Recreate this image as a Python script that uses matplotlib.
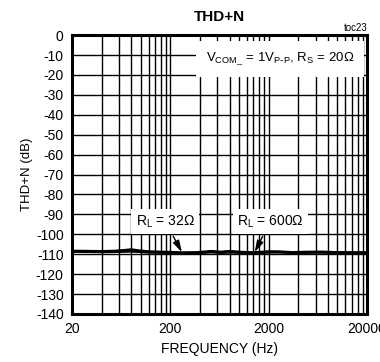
import numpy as np
import matplotlib
matplotlib.use("Agg")
import matplotlib.pyplot as plt
from matplotlib.ticker import FixedLocator, NullFormatter

plt.rcParams['font.family'] = ['Liberation Sans', 'DejaVu Sans']
plt.rcParams['mathtext.default'] = 'regular'
plt.rcParams['axes.unicode_minus'] = False

# data
freq = [20, 30, 40, 55, 70, 80, 95, 120, 160, 200, 260, 350, 450, 520, 650, 800, 1000,
        1400, 2000, 2500, 3500, 5000, 7000, 10000, 14000, 20000]
thdn_32 = [-108.4, -108.5, -108.6, -108.4, -108.0, -107.7, -108.2, -108.7, -108.9, -109.0,
           -109.3, -109.2, -108.8, -108.5, -108.9, -108.5, -108.9,
           -109.2, -108.7, -108.8, -109.1, -108.9, -108.9, -109.1, -109.2, -109.2]
thdn_600 = [-108.6, -108.7, -108.8, -108.7, -108.6, -108.5, -108.7, -109.0, -109.1, -109.2,
            -109.4, -109.3, -109.1, -108.9, -109.2, -109.0, -109.1,
            -109.4, -109.0, -108.9, -109.2, -109.1, -109.0, -109.2, -109.3, -109.3]

yticks = list(range(0, -150, -10))
xticks = [20, 200, 2000, 20000]
xticklabels = ['20', '200', '2000', '20000']

fig = plt.figure(figsize=(3.8, 3.62), dpi=100)
ax = fig.add_axes([0.1895, 0.1326, 0.7765, 0.7705])

ax.plot(freq, thdn_32, color='black', lw=2.0)
ax.plot(freq, thdn_600, color='black', lw=2.0)

ax.set_xscale('log')
ax.set_xlim(20, 20000)
ax.set_ylim(-140, 0)

# grid lines at 20*k within each decade
minor = [20 * k * 10 ** n for n in range(3) for k in range(2, 10)]
ax.xaxis.set_major_locator(FixedLocator(xticks))
ax.set_xticklabels(xticklabels)
ax.xaxis.set_minor_locator(FixedLocator(minor))
ax.xaxis.set_minor_formatter(NullFormatter())
ax.set_yticks(yticks)

ax.grid(True, which='both', axis='x', color='black', lw=1.0)
ax.grid(True, which='major', axis='y', color='black', lw=1.0)
ax.tick_params(which='both', length=0, labelsize=10, pad=6)
for s in ax.spines.values():
    s.set_linewidth(2.2)

ax.set_xlabel('FREQUENCY (Hz)', fontsize=10, labelpad=4)
ax.set_ylabel('THD+N (dB)', fontsize=9.5, labelpad=2)
ax.set_title('THD+N', fontsize=11, fontweight='bold', pad=10)
fig.text(0.968, 0.91, 'toc23', fontsize=7, ha='right', va='bottom')

box = dict(facecolor='white', edgecolor='none', pad=3)
arrow = dict(arrowstyle='-|>,head_length=0.7,head_width=0.2', color='black', lw=1.0,
             shrinkA=2, shrinkB=0, mutation_scale=10)
ax.text(2600, -12, r'$V_{COM\_}$ = 1$V_{P\text{-}P}$, $R_S$ = 20Ω', fontsize=9.5,
        ha='center', va='center', bbox=dict(facecolor='white', edgecolor='none', pad=7))
ax.annotate(r'$R_L$ = 32Ω', xy=(262, -109), xytext=(177, -93.5),
            fontsize=10, ha='center', va='center', bbox=box, arrowprops=arrow)
ax.annotate(r'$R_L$ = 600Ω', xy=(1440, -109), xytext=(2065, -93.5),
            fontsize=10, ha='center', va='center', bbox=box, arrowprops=arrow)

fig.savefig('out.png', dpi=100)
